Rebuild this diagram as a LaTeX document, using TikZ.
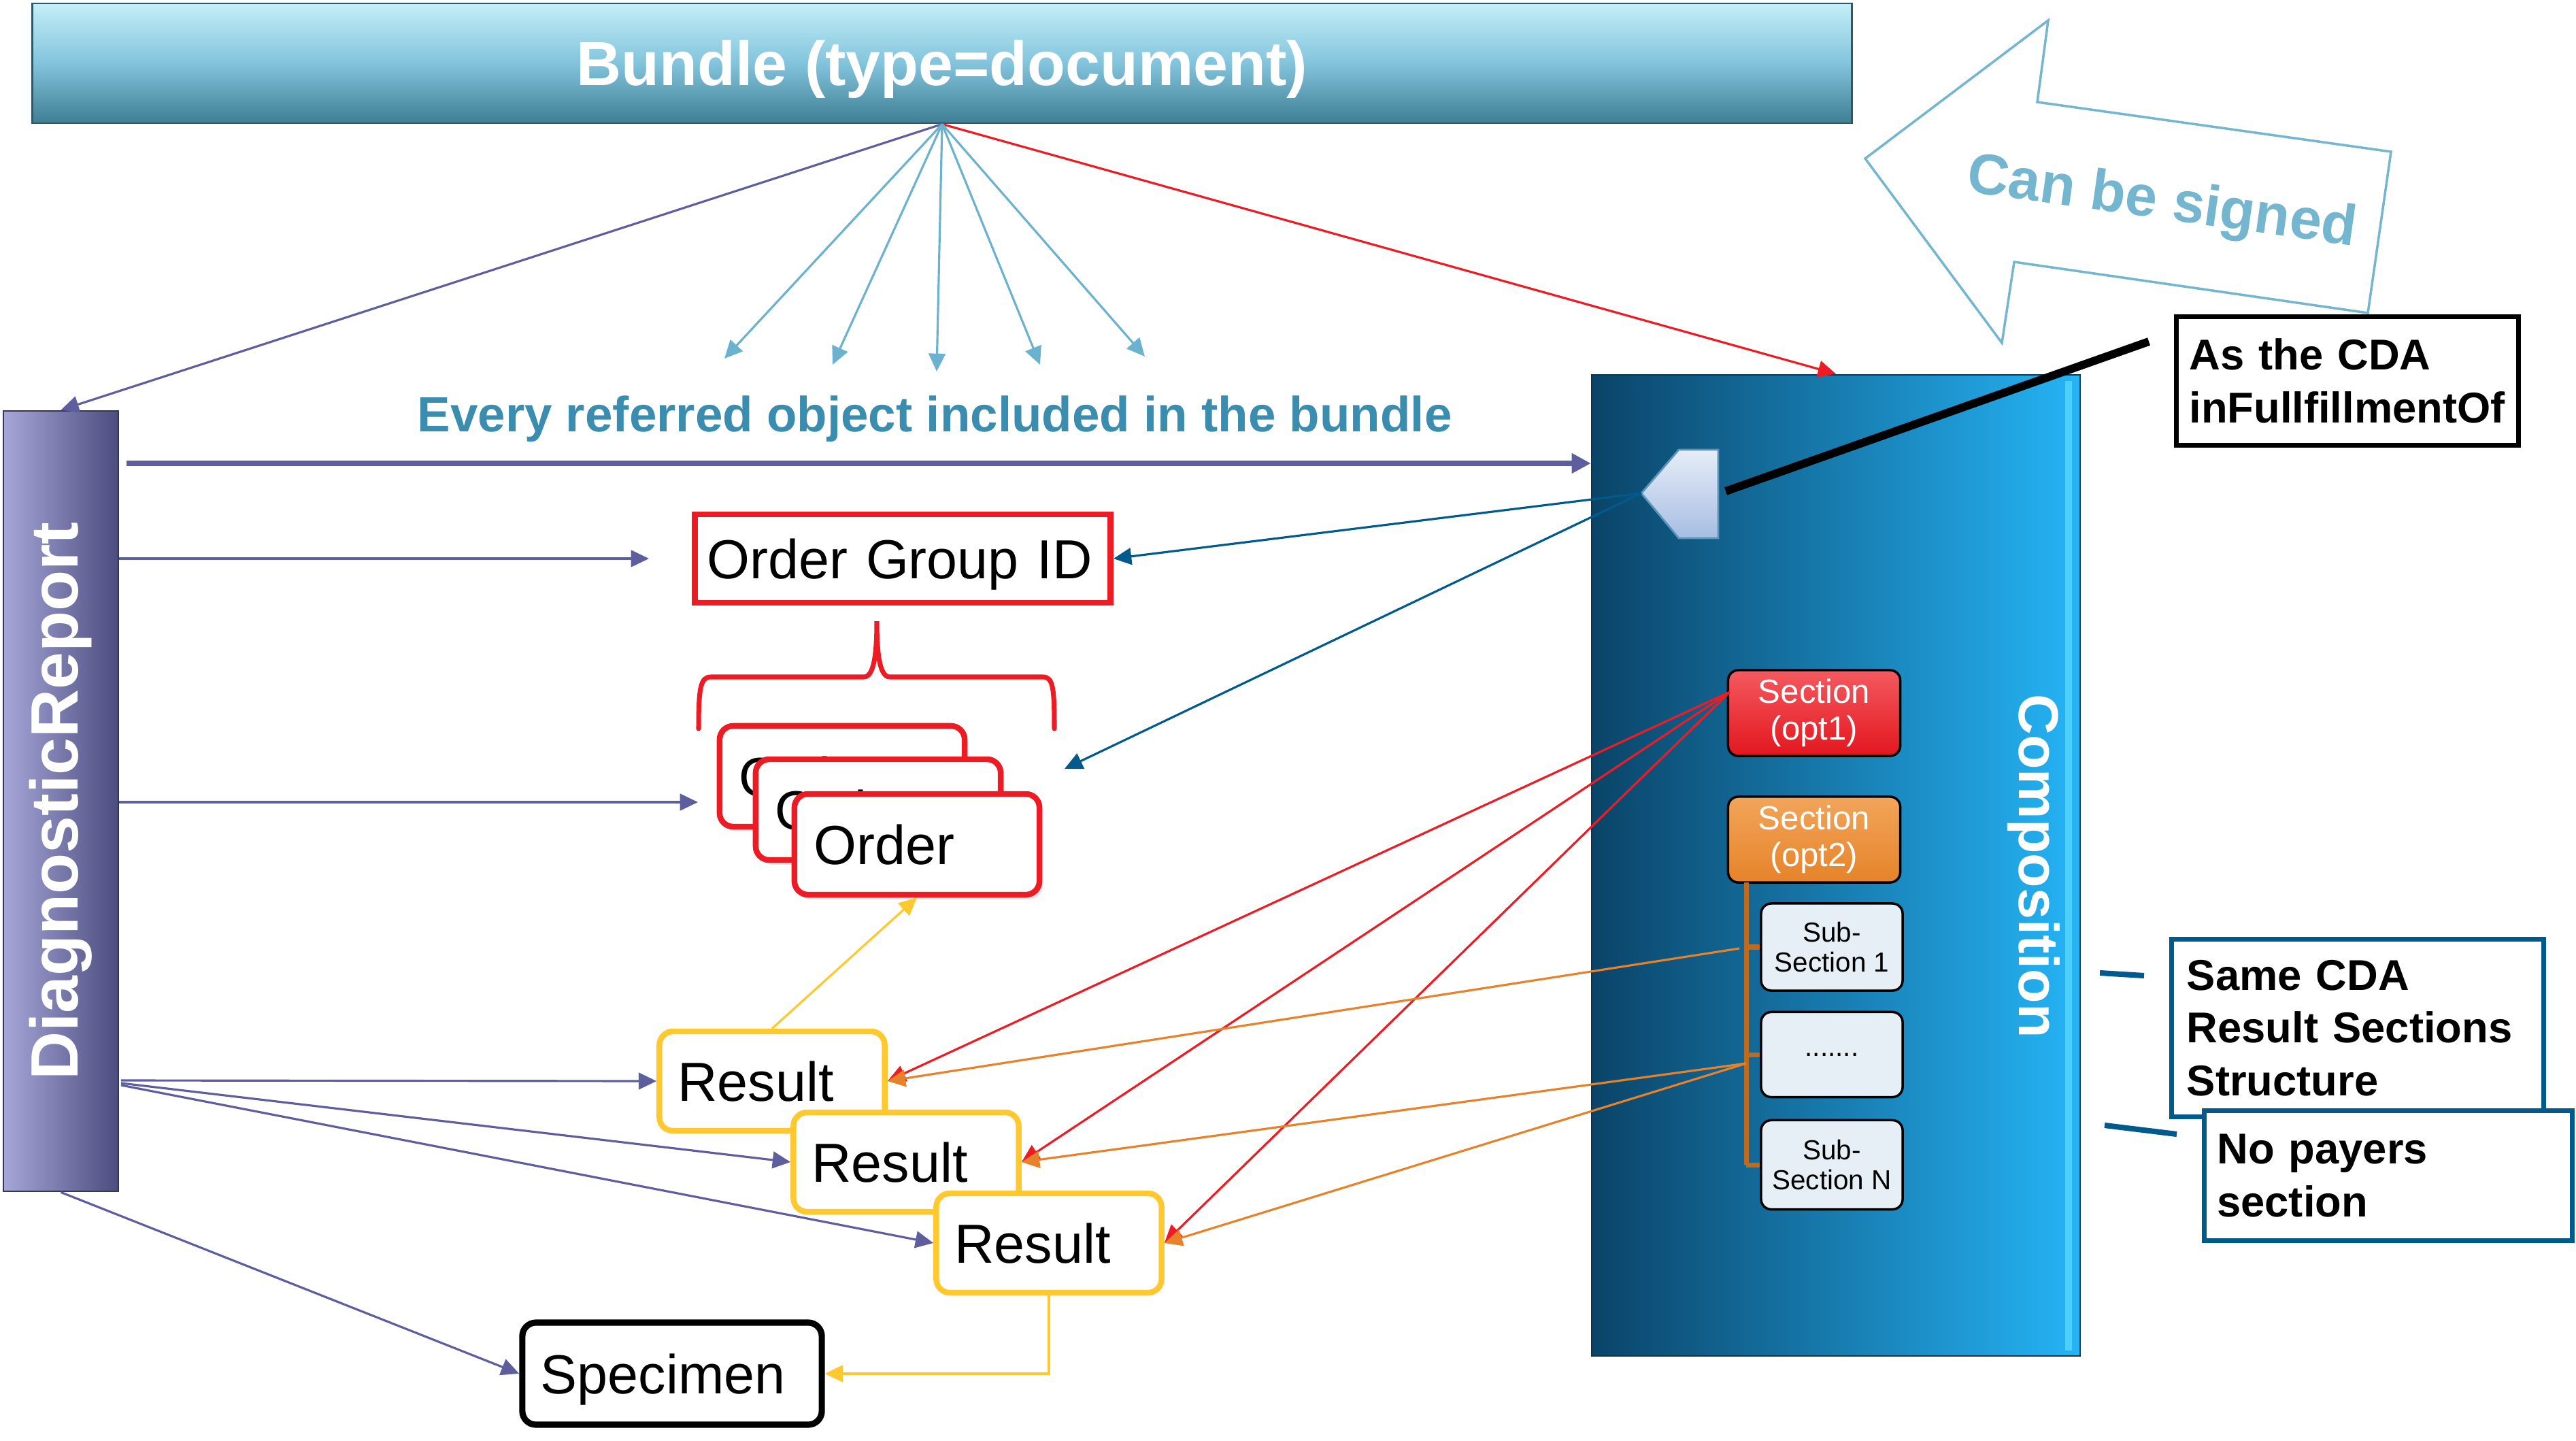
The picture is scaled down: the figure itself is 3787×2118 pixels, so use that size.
\documentclass[tikz,border=0pt]{standalone}
\usepackage{fontspec}
\setmainfont{Liberation Sans}
\usetikzlibrary{arrows.meta,shadows}
\definecolor{drpurple}{HTML}{5E5E9E}
\definecolor{drleft}{HTML}{A6A6D8}
\definecolor{drright}{HTML}{4C4C7E}
\definecolor{bundletop}{HTML}{C4EEF8}
\definecolor{bundlemid}{HTML}{82C4DC}
\definecolor{bundlebot}{HTML}{3F7E94}
\definecolor{compleft}{HTML}{0A4468}
\definecolor{compright}{HTML}{25B4F6}
\definecolor{compedge}{HTML}{5CDCFF}
\definecolor{fanblue}{HTML}{6AB2CE}
\definecolor{everyblue}{HTML}{3A8DAF}
\definecolor{signblue}{HTML}{74B5CF}
\definecolor{myred}{HTML}{ED1C24}
\definecolor{myorange}{HTML}{E8822A}
\definecolor{myyellow}{HTML}{FFC82E}
\definecolor{navyblue}{HTML}{005A8C}
\definecolor{treebrown}{HTML}{C06A1E}
\definecolor{subfill}{HTML}{E6EEF6}
\definecolor{pentatop}{HTML}{E7EDF8}
\definecolor{pentabot}{HTML}{A6BEE2}
\definecolor{redtop}{HTML}{F45A60}
\definecolor{redbot}{HTML}{E3161E}
\definecolor{orgtop}{HTML}{F2A55A}
\definecolor{orgbot}{HTML}{E5832A}
\newcommand\fsz[2]{\fontsize{#1}{#2}\selectfont}
\begin{document}
\begin{tikzpicture}[x=0.01cm,y=-0.01cm,
  >={Triangle[length=7.5pt,width=7pt]},
  conn/.style={line width=0.9pt,->},
  purpconn/.style={conn,draw=drpurple},
  fanconn/.style={conn,draw=fanblue},
  navyconn/.style={conn,draw=navyblue},
  redconn/.style={conn,draw=myred},
  orgconn/.style={conn,draw=myorange},
  yelconn/.style={conn,draw=myyellow},
  softshadow/.style={drop shadow={opacity=0.18, shadow xshift=1.5pt, shadow yshift=-2pt}},
  boxtext/.style={font=\fsz{23}{27}, text=black, align=left, inner ysep=0pt, fill=white, text height=16.5pt, text depth=0pt},
  ogbox/.style={boxtext, draw=myred, line width=2.4pt},
  orderbox/.style={boxtext, softshadow, draw=myred, line width=2.4pt, rounded corners=0.2cm, text width=3.02cm, inner xsep=0.29cm, minimum height=1.48cm},
  resultbox/.style={boxtext, draw=myyellow, line width=2.4pt, rounded corners=0.2cm, text width=2.77cm, inner xsep=0.27cm, minimum height=1.46cm},
  specbox/.style={boxtext, draw=black, line width=2.6pt, rounded corners=0.2cm, text width=3.86cm, inner xsep=0.27cm, minimum height=1.5cm},
  secbox/.style={draw=black, line width=1pt, rounded corners=0.15cm, minimum width=2.53cm, minimum height=1.26cm, inner sep=0pt, align=center, text=white, font=\fsz{14}{15.5}},
  subbox/.style={draw=black, line width=1pt, rounded corners=0.15cm, minimum width=2.08cm, inner sep=0pt, align=center, text=black, fill=subfill, font=\fsz{11.5}{12.5}},
  notebox/.style={fill=white, line width=2pt, align=left, inner ysep=0pt, font=\fsz{18}{22}\bfseries, text=black},
  treeline/.style={draw=treebrown, line width=2pt},
  leader/.style={draw=navyblue, line width=2.3pt}]
\useasboundingbox (0,0) rectangle (3787,2118);

% ---------- coordinates ----------
\coordinate (e1) at (1065,527);
\coordinate (e2) at (1224,536);
\coordinate (e3) at (1377,546);
\coordinate (e4) at (1529,536);
\coordinate (e5) at (1683,524);
\coordinate (ogin) at (954,821);
\coordinate (ordin) at (1026,1179);
\coordinate (thickstart) at (186,681);
\coordinate (dra) at (178,1588);
\coordinate (drb) at (178,1592);
\coordinate (drc) at (178,1595);
\coordinate (penta) at (2413,725);
\coordinate (ordtgt) at (1565,1130);
\coordinate (s1p) at (2543,1017);
\coordinate (o1) at (2557,1394);
\coordinate (o2) at (2567,1563);
\coordinate (treetop) at (2567,1297);
\coordinate (treebot) at (2567,1712);
\coordinate (bl1) at (2537,722);
\coordinate (bl2) at (3159,502);
\coordinate (l1a) at (3087,1430);
\coordinate (l1b) at (3152,1434);
\coordinate (l2a) at (3094,1654);
\coordinate (l2b) at (3200,1667);

% ---------- big bars ----------
\node[minimum width=26.74cm, minimum height=1.76cm, inner sep=0pt,
      top color=bundletop, bottom color=bundlebot, middle color=bundlemid,
      draw=bundlebot!70!black, line width=0.8pt,
      text=white, font=\fsz{26}{31}\bfseries, text height=18.6pt, text depth=0pt] (bundle) at (1385,93) {Bundle (type=document)};

\node[minimum width=1.69cm, minimum height=11.47cm, inner sep=0pt,
      left color=drleft, right color=drright, draw=drright!70!black, line width=0.6pt] (dr) at (89.5,1177.5) {};
\node[rotate=90, text=white, font=\fsz{28}{33}\bfseries] (drtext) at (dr.center) {DiagnosticReport};

\node[minimum width=7.18cm, minimum height=14.42cm, inner sep=0pt,
      left color=compleft, right color=compright, draw=compleft!80!black, line width=0.6pt] (comp) at (2699,1272) {};
\fill[compedge, opacity=0.7] (3036,560) rectangle (3046,1985);
\node[rotate=-90, text=white, font=\fsz{23.5}{28}\bfseries] (comptext) at (2990,1273) {Composition};

% ---------- can be signed ----------
\draw[draw=signblue, line width=1pt, line join=miter]
  (2742,233) -- (3011,30) -- (2995,150) -- (3515,223) -- (3481,460) -- (2961,385) -- (2943,504) -- cycle;
\node[rotate=-8, text=signblue, font=\fsz{24}{29}\bfseries] (signtext) at (3178,300) {Can be signed};

% ---------- text ----------
\node[text=everyblue, font=\fsz{20.7}{25}\bfseries] (everytext) at (1374,616) {Every referred object included in the bundle};

% ---------- left boxes ----------
\node[ogbox, text width=5.75cm, inner xsep=0.18cm, minimum height=1.3cm] (ogid) at (1327,821) {Order Group ID};

\draw[draw=myred, line width=2pt, line cap=round]
  (1027,1071) .. controls (1027,1010) and (1030,995) .. (1045,995) -- (1270,995)
  .. controls (1285,995) and (1289,960) .. (1289,913)
  .. controls (1289,960) and (1293,995) .. (1308,995) -- (1533,995)
  .. controls (1548,995) and (1550,1010) .. (1550,1071);

\node[orderbox] (order1) at (1238,1141) {Order};
\node[orderbox] (order2) at (1291,1190) {Order};
\node[orderbox] (order3) at (1348,1241) {Order};

\node[resultbox] (r1) at (1135,1589) {Result};
\node[resultbox] (r2) at (1332,1708) {Result};
\node[resultbox] (r3) at (1542,1827) {Result};

\node[specbox] (spec) at (988,2019) {Specimen};

% ---------- composition content ----------
\draw[draw=pentatop!40!navyblue, line width=0.8pt, top color=pentatop, bottom color=pentabot]
  (penta) -- (2468,661) -- (2526,661) -- (2526,791) -- (2468,791) -- cycle;

\node[secbox, top color=redtop, bottom color=redbot] (sec1) at (2667,1048) {Section\\(opt1)};
\node[secbox, top color=orgtop, bottom color=orgbot] (sec2) at (2667,1234) {Section\\(opt2)};
\draw[treeline] (treetop) -- (treebot);
\node[subbox, minimum height=1.28cm] (sub1) at (2693,1392) {Sub-\\Section 1};
\node[subbox, minimum height=1.25cm] (subdots) at (2693,1550) {.......};
\node[subbox, minimum height=1.31cm] (subn) at (2693,1712) {Sub-\\Section N};
\draw[treeline] (treetop |- sub1.west) -- (sub1.west);
\draw[treeline] (treetop |- subdots.west) -- (subdots.west);
\draw[treeline] (treetop |- subn.west) -- (subn.west);

% ---------- notes ----------
\node[notebox, draw=black, text width=4.65cm, inner xsep=0.19cm, minimum height=1.89cm] (note1) at (3451,560) {As the CDA\\inFullfillmentOf};
\node[notebox, draw=navyblue, text width=5.02cm, inner xsep=0.22cm, minimum height=2.61cm] (note2) at (3466,1511) {Same CDA\\Result Sections\\Structure};
\node[notebox, draw=navyblue, text width=5.03cm, inner xsep=0.19cm, minimum height=1.9cm] (note3) at (3511,1728) {No payers\\section};
\draw[leader] (l1a) -- (l1b);
\draw[leader] (l2a) -- (l2b);
\draw[line width=3.4pt] (bl1) -- (bl2);

% ---------- connectors ----------
\draw[purpconn] (bundle.south) -- (dr.north);
\draw[redconn] (bundle.south) -- (comp.north);
\foreach \e in {e1,e2,e3,e4,e5} \draw[fanconn] (bundle.south) -- (\e);

\draw[draw=drpurple, line width=2pt, -{Triangle[length=8pt,width=8pt]}] (thickstart) -- (thickstart -| comp.west);
\draw[purpconn] (dr.east |- ogin) -- (ogin);
\draw[purpconn] (dr.east |- ordin) -- (ordin);
\draw[purpconn] (dra) -- (r1.west);
\draw[purpconn] (drb) -- (r2.west);
\draw[purpconn] (drc) -- (r3.west);
\draw[purpconn] (dr.south) -- (spec.west);

\draw[navyconn] (penta) -- (ogid.east);
\draw[navyconn] (penta) -- (ordtgt);

\draw[yelconn] (r1.north) -- (order3.south);
\draw[yelconn] (r3.south) |- (spec.east);

\draw[redconn] (s1p) -- (r1.east);
\draw[redconn] (s1p) -- (r2.east);
\draw[redconn] (s1p) -- (r3.east);
\draw[orgconn] (o1) -- (r1.east);
\draw[orgconn] (o2) -- (r2.east);
\draw[orgconn] (o2) -- (r3.east);
\end{tikzpicture}
\end{document}
